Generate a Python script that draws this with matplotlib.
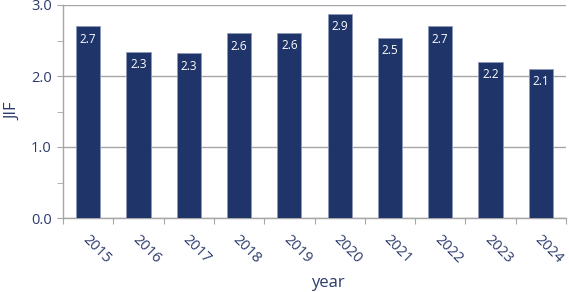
import matplotlib
matplotlib.use("Agg")
import matplotlib.pyplot as plt
from matplotlib.ticker import MultipleLocator

years = ["2015", "2016", "2017", "2018", "2019", "2020", "2021", "2022", "2023", "2024"]
jif = [2.70, 2.34, 2.32, 2.60, 2.61, 2.88, 2.54, 2.70, 2.20, 2.10]
labels = ["2.7", "2.3", "2.3", "2.6", "2.6", "2.9", "2.5", "2.7", "2.2", "2.1"]
yticks = [0.0, 1.0, 2.0, 3.0]

navy = "#1F3469"
textc = "#2B3A6B"
grid = "#A6A6A6"

plt.rcParams['font.family'] = ['Open Sans', 'DejaVu Sans']

fig = plt.figure(figsize=(5.69, 2.92), dpi=100)
ax = fig.add_axes([63/569, 1-218/292, (566-63)/569, (218-5)/292])

x = list(range(len(years)))
bars = ax.bar(x, jif, width=0.48, color=navy, edgecolor="#8C9AB8", linewidth=0.6, zorder=3)
for xi, v, lab in zip(x, jif, labels):
    ax.annotate(lab, xy=(xi, v), xytext=(0, -4.5), textcoords='offset points',
                ha='center', va='top', color='white', fontsize=8.5, zorder=4)

ax.set_xlim(-0.5, len(years) - 0.5)
ax.set_ylim(0, 3.0)
ax.set_yticks(yticks)
ax.set_yticklabels([f"{t:.1f}" for t in yticks])
ax.yaxis.set_minor_locator(MultipleLocator(0.5))
ax.grid(axis='y', which='major', color=grid, linewidth=1.0, zorder=0)

ax.set_xticks([i - 0.5 for i in range(len(years) + 1)])
ax.set_xticklabels([])
for xi, y in zip(x, years):
    ax.annotate(y, xy=(xi, 0), xycoords=('data', 'axes fraction'),
                xytext=(1, -10), textcoords='offset points',
                rotation=-45, ha='left', va='top', rotation_mode='anchor',
                color=textc, fontsize=10.5)

for s in ['top', 'right']:
    ax.spines[s].set_visible(False)
for s in ['left', 'bottom']:
    ax.spines[s].set_color(grid)
    ax.spines[s].set_linewidth(1.0)

ax.tick_params(axis='y', which='both', direction='out', length=4, color=grid, labelcolor=textc, labelsize=10.5, pad=4)
ax.tick_params(axis='x', which='both', direction='out', length=4, color=grid)

ax.set_ylabel("JIF", color=textc, fontsize=12, labelpad=7)
fig.text(328/569, 1-283/292, "year", ha='center', va='center', color=textc, fontsize=12)

fig.savefig("out.png", dpi=100)
